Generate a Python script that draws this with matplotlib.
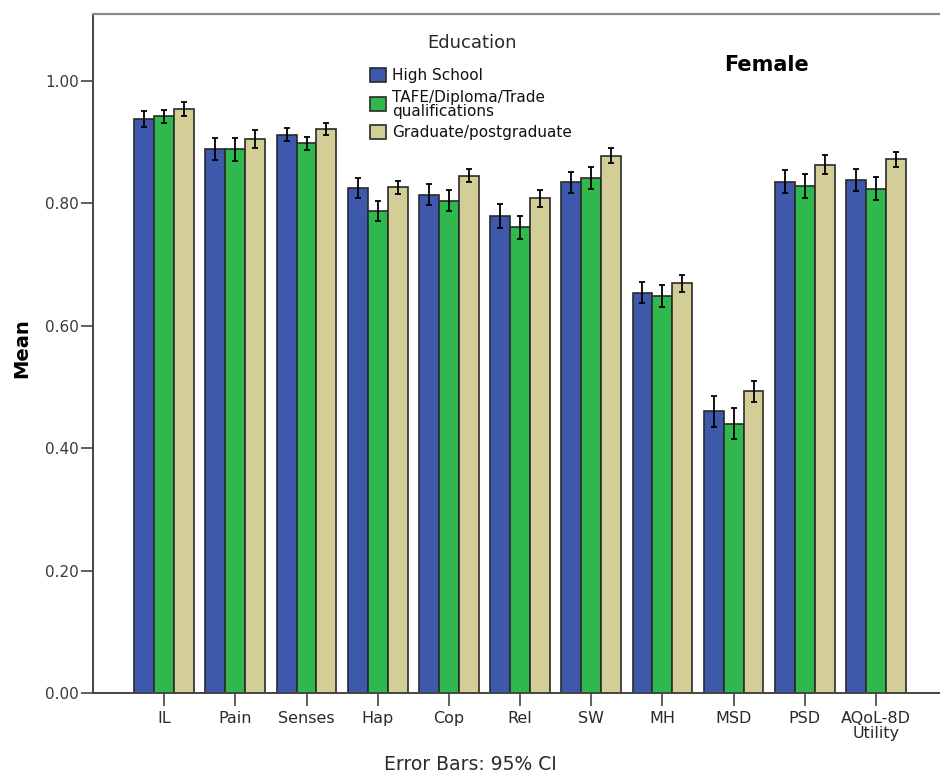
import numpy as np
import matplotlib
matplotlib.use("Agg")
import matplotlib.pyplot as plt
from matplotlib.patches import Rectangle

plt.rcParams['font.family'] = ['DejaVu Sans']

categories = ["IL", "Pain", "Senses", "Hap", "Cop", "Rel", "SW", "MH", "MSD", "PSD", "AQoL-8D\nUtility"]
groups = ["High School", "TAFE/Diploma/Trade\nqualifications", "Graduate/postgraduate"]

high_school = [0.938, 0.888, 0.912, 0.825, 0.814, 0.779, 0.834, 0.654, 0.460, 0.835, 0.838]
tafe        = [0.942, 0.888, 0.898, 0.787, 0.804, 0.761, 0.841, 0.649, 0.440, 0.828, 0.824]
graduate    = [0.954, 0.905, 0.921, 0.826, 0.845, 0.808, 0.878, 0.669, 0.493, 0.863, 0.872]

high_school_ci = [0.013, 0.018, 0.011, 0.017, 0.017, 0.020, 0.017, 0.017, 0.025, 0.019, 0.018]
tafe_ci        = [0.011, 0.019, 0.011, 0.016, 0.017, 0.019, 0.018, 0.018, 0.025, 0.019, 0.019]
graduate_ci    = [0.011, 0.014, 0.010, 0.011, 0.011, 0.014, 0.012, 0.014, 0.017, 0.016, 0.012]

yticks = [0.0, 0.2, 0.4, 0.6, 0.8, 1.0]

colors = ["#3E58AC", "#2EB84E", "#D3CE97"]
edge = "#2a2a2a"

W, H = 940, 776
fig = plt.figure(figsize=(W / 100, H / 100), dpi=100)
ax = fig.add_axes([93 / W, 1 - 693 / H, 1 - 93 / W, (693 - 13.5) / H])

x = np.arange(len(categories))
width = 0.28
series = [(high_school, high_school_ci), (tafe, tafe_ci), (graduate, graduate_ci)]
for i, (vals, ci) in enumerate(series):
    pos = x + (i - 1) * width
    ax.bar(pos, vals, width=width, color=colors[i], edgecolor=edge, linewidth=1.2, zorder=2)
    ax.errorbar(pos, vals, yerr=ci, fmt="none", ecolor="black", elinewidth=1.3,
                capsize=2.2, capthick=1.3, zorder=3)

ax.set_xlim(-1, 10.9)
ax.set_ylim(0, 1.11)
ax.set_yticks(yticks)
ax.set_yticklabels([f"{v:.2f}" for v in yticks], fontsize=11, color="#3a3a3a")
ax.set_xticks(x)
ax.set_xticklabels(categories, fontsize=11.5, color="#2a2a2a", linespacing=1.0)
ax.tick_params(axis="y", direction="out", length=9, width=1.2, color="#444444", pad=1)
ax.tick_params(axis="x", direction="out", length=9, width=1.2, color="#444444", pad=4)

ax.spines["right"].set_visible(False)
for side in ["left", "bottom"]:
    ax.spines[side].set_color("#444444")
    ax.spines[side].set_linewidth(1.4)
ax.spines["top"].set_color("#8a8a8a")
ax.spines["top"].set_linewidth(1.6)

# y-axis title
fig.text(22 / W, 1 - 348 / H, "Mean", fontsize=14, fontweight="bold",
         rotation=90, ha="center", va="center")

# legend drawn in figure pixel positions
fig.text(472 / W, 1 - 43 / H, "Education", fontsize=13, ha="center", va="center",
         color="#2a2a2a")
square_tops = [68, 97, 125]
text_centers = [75.5, 104.5, 133]
for c, label, top, ty in zip(colors, groups, square_tops, text_centers):
    fig.patches.append(Rectangle((370 / W, 1 - (top + 14) / H), 16 / W, 14 / H,
                                 facecolor=c, edgecolor=edge, linewidth=1.2,
                                 transform=fig.transFigure, figure=fig))
    fig.text(392 / W, 1 - ty / H, label, fontsize=11, ha="left", va="center",
             linespacing=0.95, color="#111111")

fig.text(766 / W, 1 - 65 / H, "Female", fontsize=15, fontweight="bold",
         ha="center", va="center")
fig.text(470 / W, 1 - 764 / H, "Error Bars: 95% CI", fontsize=13.5,
         ha="center", va="center", color="#2a2a2a")

fig.savefig("out.png", dpi=100)
